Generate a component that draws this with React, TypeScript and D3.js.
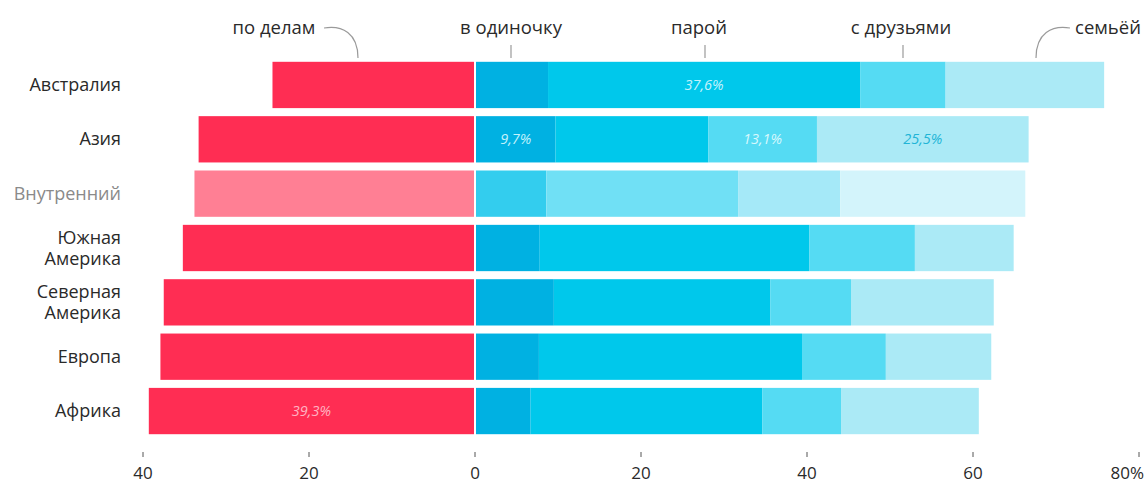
import React from "react";
import * as d3 from "d3";

const regions = ["Австралия", "Азия", "Внутренний", "Южная Америка", "Северная Америка", "Европа", "Африка"];
const business = [24.4, 33.3, 33.8, 35.2, 37.5, 37.9, 39.3];
const alone = [8.8, 9.7, 8.6, 7.8, 9.5, 7.7, 6.7];
const couple = [37.6, 18.4, 23.1, 32.5, 26.1, 31.7, 27.9];
const friends = [10.3, 13.1, 12.3, 12.7, 9.7, 10.1, 9.5];
const family = [19.1, 25.5, 22.3, 11.9, 17.2, 12.7, 16.6];
const seriesNames = ["по делам", "в одиночку", "парой", "с друзьями", "семьёй"];
const tickValues = [-40, -20, 0, 20, 40, 60, 80];
const tickLabels = ["40", "20", "0", "20", "40", "60", "80%"];
// [region index, series index, text]
const barLabels: [number, number, string][] = [
  [0, 2, "37,6%"],
  [1, 1, "9,7%"],
  [1, 3, "13,1%"],
  [1, 4, "25,5%"],
  [6, 0, "39,3%"],
];

const W = 1147;
const H = 483;
const FONT = "'Open Sans', 'Noto Sans', sans-serif";

const colorsNormal = ["#ff2d53", "#00b1e2", "#00c8eb", "#55dbf3", "#abeaf6"];
const colorsLight = ["#ff7f94", "#33cdee", "#70e0f5", "#a5e9f8", "#d3f4fb"];
const labelColors = ["#ffb3c2", "#c4f2fc", "#c4f2fc", "#d8f8fd", "#22b5d6"];

export default function App() {
  const x = d3.scaleLinear().domain([-40, 80]).range([143, 1139]);
  const y = d3.scaleBand().domain(regions).range([58, 438]).paddingInner(0.148).paddingOuter(0.07);
  const bw = y.bandwidth();

  const rows = regions.map((r, i) => {
    const vals = [alone[i], couple[i], friends[i], family[i]];
    const segs: { x0: number; x1: number; s: number }[] = [];
    segs.push({ x0: x(-business[i]), x1: x(0) - 1, s: 0 });
    let acc = 0;
    vals.forEach((v, k) => {
      segs.push({ x0: x(acc) + (k === 0 ? 1 : 0), x1: x(acc + v), s: k + 1 });
      acc += v;
    });
    return { r, i, segs };
  });

  const segCenter = (ri: number, si: number) => {
    const seg = rows[ri].segs[si];
    return (seg.x0 + seg.x1) / 2;
  };

  const legendTextX = [274, 511, 699, 901, 1108];

  return (
    <svg width={W} height={H} style={{ position: "absolute", left: 0, top: 0, background: "#fff" }} fontFamily={FONT}>
      {/* legend */}
      <g fontSize={18.5} fill="#2a2a2a" textAnchor="middle">
        {seriesNames.map((s, k) => (
          <text key={s} x={legendTextX[k]} y={34}>{s}</text>
        ))}
      </g>
      <g stroke="#9a9a9a" strokeWidth={1.2} fill="none">
        <path d="M324,28 C342,25 358,33 358,58" />
        <line x1={511} x2={511} y1={45} y2={58} />
        <line x1={705} x2={705} y1={45} y2={58} />
        <line x1={903} x2={903} y1={45} y2={58} />
        <path d="M1070,28 C1052,25 1036,33 1036,58" />
      </g>

      {/* bars */}
      {rows.map((row) => (
        <g key={row.r}>
          {row.segs.map((sg) => (
            <rect
              key={sg.s}
              x={sg.x0}
              y={y(row.r)}
              width={Math.max(0, sg.x1 - sg.x0)}
              height={bw}
              fill={row.i === 2 ? colorsLight[sg.s] : colorsNormal[sg.s]}
            />
          ))}
        </g>
      ))}

      {/* bar value labels */}
      <g fontSize={14.5} fontStyle="italic" textAnchor="middle">
        {barLabels.map(([ri, si, t]) => (
          <text key={t} x={segCenter(ri, si)} y={(y(regions[ri]) as number) + bw / 2 + 5} fill={labelColors[si]}>
            {t}
          </text>
        ))}
      </g>

      {/* row labels */}
      <g fontSize={18} textAnchor="end">
        {regions.map((r, i) => {
          const cy = (y(r) as number) + bw / 2;
          const parts = r.split(" ");
          const fill = i === 2 ? "#8a8a8a" : "#2a2a2a";
          if (parts.length === 1) {
            return (
              <text key={r} x={121} y={cy + 6} fill={fill}>{r}</text>
            );
          }
          return (
            <text key={r} x={121} y={cy - 4} fill={fill}>
              <tspan x={121}>{parts[0]}</tspan>
              <tspan x={121} dy={21}>{parts[1]}</tspan>
            </text>
          );
        })}
      </g>

      {/* axis */}
      <g>
        {tickValues.map((t, k) => (
          <g key={t}>
            <line x1={x(t)} x2={x(t)} y1={452} y2={457} stroke="#555" strokeWidth={1} />
            <text
              x={k === tickValues.length - 1 ? x(t) + 5 : x(t)}
              y={479}
              fontSize={17}
              fill="#2a2a2a"
              textAnchor={k === tickValues.length - 1 ? "end" : "middle"}
            >
              {tickLabels[k]}
            </text>
          </g>
        ))}
      </g>
    </svg>
  );
}
